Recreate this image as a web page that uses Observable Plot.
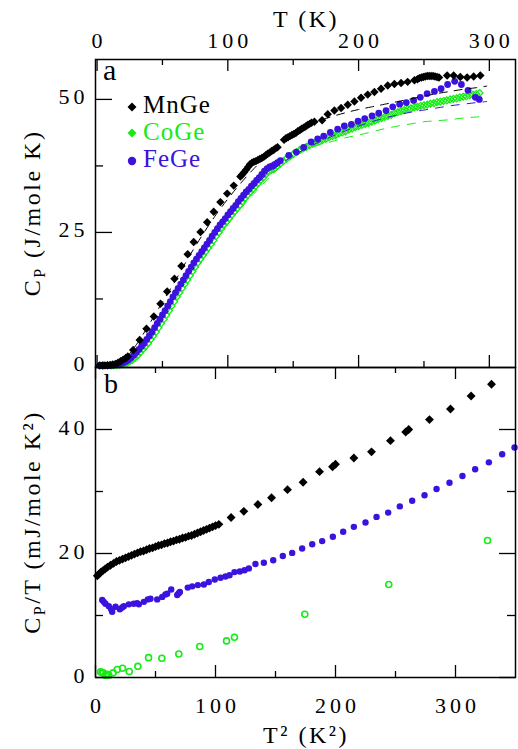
<!DOCTYPE html>
<html><head><meta charset="utf-8">
<script src="https://cdn.jsdelivr.net/npm/d3@7"></script>
<script src="https://cdn.jsdelivr.net/npm/@observablehq/plot@0.6"></script>
<style>
html,body{margin:0;padding:0;background:#fff;}
#chart{position:relative;width:518px;height:749px;overflow:hidden;}
#chart svg{position:absolute;left:0;}
</style></head><body><div id="chart"></div>
<script>
// ---------- Panel a : C_P (J/mole K) vs T (K) ----------
const mnGeCp = [[2,0],[4,0],[6,0.02],[8,0.05],[10,0.1],[12,0.18],[14,0.3],[16,0.5],[18,0.8],[20,1.1],[22,1.4],[23.5,1.7],
 [27.6,2.9],[32.6,4.8],[37.8,6.9],[43.4,9.2],[48.5,11.6],[53.6,13.9],[59.2,16.3],[64.5,18.7],[69.3,20.9],[73.9,23.2],[79.1,25.1],[84.2,26.9],[89.2,28.9],[94.3,30.7],[99.5,32.3],[104.5,33.8],[109.6,35.5],
 [111,35.9],[112.5,36.3],[114,36.8],[115.5,37.3],[117,37.8],[118.5,38.1],[120,38.3],[121.5,38.4],[123,38.6],[124.5,38.8],[126,39.0],[127.5,39.2],[129,39.5],[130.5,39.8],[132,40.0],[133.5,40.3],[135,40.5],[136.5,40.8],[138,41.0],
 [143,42.4],[144.5,42.7],[146,42.9],[147.5,43.1],[149,43.3],[150.5,43.5],[152,43.7],[153.5,44.0],[155,44.2],[156.5,44.5],[158,44.7],[159.5,44.9],[161,45.2],[162.5,45.4],[164,45.6],[166.2,45.8],
 [172.1,46.1],[176.4,47.2],[181.5,47.9],[186.6,48.4],[191.7,49.0],[196.8,49.6],[201.9,50.3],[207,50.9],[212.1,51.4],[217.2,52.0],[222.3,52.6],[227.4,52.9],[232.5,53.1],[237.5,53.3],[242.7,53.6],
 [245,53.8],[246.5,54.0],[248,54.1],[249.5,54.2],[251,54.3],[252.5,54.4],[254,54.4],[255.5,54.4],[257,54.4],[258.5,54.3],[260,54.2],[261.5,54.1],
 [267.7,54.5],[272.7,54.5],[277.8,54.2],[283,54.1],[288,54.3],[293.1,54.5]];

const coGeCp = [[5,0],[8,0],[11,0.01],[13,0.03],[15,0.07],[17,0.13],[19,0.22],[21,0.35],[23,0.5],[25,0.75],[27,1.05],[29,1.45],[31,1.9],[33,2.45],[35,3.0],[37,3.6],[39,4.2],[41,4.9],[43,5.6],[45,6.3],[47,7.1],[49,7.9],[51,8.7],[53,9.5],[55,10.3],[57,11.2],[59,12.0],[61,12.9],[63,13.7],[65,14.5],[67,15.3],[69,16.1],[71,16.9],[73,17.7],[75,18.5],[77,19.3],[79,20.0],[81,20.7],[83,21.4],[85,22.1],[87,22.8],[89,23.5],[91,24.3],[93,25.0],[95,25.7],[97,26.4],[99,27.0],[101,27.6],[103,28.3],[105,28.9],[107,29.5],[109,30.1],[111,30.8],[113,31.4],[115,32.0],[117,32.6],[119,33.1],[121,33.7],[123,34.2],[125,34.8],[127,35.3],[129,35.9],[131,36.4],[133,36.7],
 [135,36.9],[137.5,37.4],[140,37.9],[142.5,38.4],[145,38.9],[147.5,39.3],[150,39.7],[152.5,40.1],[155,40.5],[157.5,40.8],[160,41.1],[162.5,41.4],[165,41.7],[167.5,41.9],[170,42.1],[172.5,42.4],[175,42.6],[177.5,42.9],[180,43.1],[182.5,43.3],[185,43.6],[187.5,43.8],[190,44.0],[192.5,44.3],[195,44.5],[197.5,44.8],[200,45.0],[202.5,45.2],[205,45.4],[207.5,45.6],[210,45.8],[212.5,46.0],[215,46.3],[217.5,46.5],[220,46.7],[222.5,46.9],[225,47.1],[227.5,47.4],[230,47.6],[232.5,47.8],[235,48.0],[237.5,48.2],[240,48.3],[242.5,48.5],[245,48.6],[247.5,48.8],[250,48.9],[252.5,49.0],[255,49.2],[257.5,49.3],[260,49.5],[262.5,49.6],[265,49.7],[267.5,49.8],[270,50.0],[272.5,50.1],[275,50.2],[277.5,50.4],[280,50.5],[282.5,50.6],[285,50.8],[287.5,50.9],[290,51.0],[292.5,51.2]];

const feGeCp = [[2,0],[4,0],[6,0],[8,0.01],[10,0.03],[12,0.07],[14,0.13],[16,0.22],[18,0.35],[20,0.5],[22,0.75],[24,1.05],[26,1.45],[28,1.9],[30,2.45],[32,3.0],[34,3.6],[36,4.2],[38,4.9],[40,5.6],[42,6.3],[44,7.1],[46,7.9],[48,8.7],[50,9.5],[52,10.3],[54,11.2],[56,12.0],[58,12.9],[60,13.7],[62,14.5],[64,15.3],[66,16.1],[68,16.9],[70,17.7],[72,18.5],[74,19.3],[76,20.0],[78,20.7],[80,21.4],[82,22.1],[84,22.8],[86,23.5],[88,24.3],[90,25.0],[92,25.7],[94,26.4],[96,27.0],[98,27.6],[100,28.3],[102,28.9],[104,29.5],[106,30.1],[108,30.8],[110,31.4],[112,32.0],[114,32.6],[116,33.1],[118,33.7],[120,34.2],[122,34.8],[124,35.3],[126,35.9],[128,36.5],[130,37.0],[132,37.3],[134,37.5],[136,37.8],[138,38.1],
 [140.2,38.5],[146.6,39.5],[152.4,40.1],[158,41.0],[163.7,42.0],[168.7,42.6],[173.3,43.1],[178.4,43.8],[184,44.4],[189.1,45.0],[194.5,45.3],[199.6,45.9],[204.7,46.4],[210.3,46.9],[215.4,47.4],[221,47.9],[226.1,48.6],[231.4,49.1],[236.5,49.4],[242.1,49.8],[247.2,50.4],[252.4,51.1],[258,51.5],[263.1,52.0],[268.1,52.8],[273.5,53.4],[278.6,52.8],[283.7,51.7],[289.3,50.4],[292.3,50.0]];

// fitted curves (dashed)
const mnGeFit = [[0,0],[10,0.1],[20,1.0],[30,3.9],[40,7.8],[50,11.9],[60,16.0],[70,20.3],[80,24.3],[90,28.0],[100,31.3],[110,34.3],[120,37.0],[130,39.5],[140,41.9],[150,43.7],[160,45.0],[170,46.0],[180,46.8],[190,47.5],[200,48.1],[210,48.6],[220,49.1],[230,49.6],[240,50.1],[250,50.6],[260,51.1],[270,51.5],[280,51.9],[290,52.2],[298,52.5]];
const coGeFit = [[0,0],[10,0.01],[20,0.3],[30,1.7],[40,4.5],[50,8.3],[60,12.4],[70,16.5],[80,20.3],[90,23.9],[100,26.8],[110,29.6],[120,32.3],[130,34.9],[140,37.3],[150,39.1],[160,40.5],[170,41.5],[180,42.1],[190,42.8],[200,43.3],[210,43.9],[220,44.5],[230,45.0],[240,45.4],[250,45.8],[260,46.0],[270,46.2],[280,46.5],[290,46.7],[298,46.9]];
const feGeFit = [[0,0],[10,0.03],[20,0.5],[30,2.5],[40,5.6],[50,9.5],[60,13.7],[70,17.7],[80,21.4],[90,25.0],[100,28.1],[110,31.0],[120,33.6],[130,35.9],[140,37.8],[150,39.4],[160,40.8],[170,42.0],[180,43.1],[190,44.1],[200,45.0],[210,45.8],[220,46.5],[230,47.1],[240,47.6],[250,48.0],[260,48.4],[270,48.8],[280,49.1],[290,49.4],[298,49.6]];

const tMajor = [0, 100, 200, 300];
const tMinor = [50, 150, 250];
const cpMajor = [0, 25, 50];
const cpMinor = [12.5, 37.5];

// ---------- Panel b : C_P/T (mJ/mole K^2) vs T^2 (K^2) ----------
const mnGeCT = [[1.5,16.4],[3,16.7],[4.5,17.0],[6,17.2],[8,17.5],[10,17.8],[12.5,18.1],[15,18.4],[17.5,18.7],[20,18.9],[22.5,19.1],[25,19.3],[27.5,19.5],[30,19.7],[32.5,19.9],[35,20.1],[37.5,20.3],[40,20.4],[42.5,20.6],[45,20.8],[47.5,20.9],[50,21.1],[52.5,21.3],[55,21.4],[57.5,21.6],[60,21.7],[62.5,21.9],[65,22.0],[67.5,22.2],[70,22.3],[72.5,22.5],[75,22.6],[77.5,22.8],[80,22.9],[82.5,23.1],[85,23.3],[87.5,23.5],[90,23.7],[92.5,23.9],[95,24.1],[97.5,24.3],[100,24.5],[102.8,24.7],
 [113,25.8],[123.6,26.8],[135.3,27.9],[146.7,29.0],[160,30.3],[173,31.5],[186.7,33.2],[197.5,34.0],[200,34.4],[215.3,35.4],[230,36.4],[245.8,38.2],[258.5,39.6],[261,40.0],[278.3,41.6],[295.8,43.3],[313,45.4],[330,47.3]];
const feGeCT = [[5.6,12.5],[6.9,12.2],[8.3,11.9],[11.1,11.5],[13.1,11.0],[13.9,10.6],[16.7,11.4],[20.3,11.0],[22.2,11.3],[23.6,11.5],[27.8,11.8],[31.9,11.9],[34.7,12.0],[36.1,11.8],[40.3,12.2],[43.6,12.6],[45.8,12.7],[51.4,12.6],[55.6,13.0],[58.3,13.4],[59.7,13.5],[63.1,14.2],[68.1,13.3],[69.4,13.6],[70.3,13.8],[76.9,14.5],[80.6,14.7],[85.3,14.9],[90.3,15.0],[94.4,15.4],[99.4,15.8],[104.2,16.1],[108.3,16.3],[111.7,16.5],[115.8,17.0],[120.3,17.1],[124.2,17.3],[127.8,17.6],[133.3,18.3],[140.3,18.5],[148.1,18.9],[156.1,19.6],[163.9,20.1],[172.2,20.8],[180.6,21.5],[188.9,22.0],[197.8,22.7],[206.4,23.5],[215.3,24.3],[225,25.0],[234.2,25.9],[243.9,26.6],[253.6,27.6],[263.9,28.5],[274.2,29.4],[284.2,30.4],[295,31.4],[305.8,32.5],[316.4,33.6],[327.8,34.7],[338.9,36.0],[349.2,37.1]];
const coGeCT = [[4.2,0.9],[5.5,0.8],[6.4,0.75],[8.3,0.37],[9.5,0.5],[11.1,0.4],[14.7,0.75],[18.1,1.3],[22.5,1.5],[28.1,0.97],[35.3,1.8],[44.2,3.2],[55.3,3.1],[69.4,3.8],[86.9,5.0],[109.2,5.9],[115.8,6.5],[174.4,10.2],[244.4,15.0],[326.7,22.1]];

const t2Major = [0, 100, 200, 300];
const t2Minor = [50, 150, 250];
const ctMajor = [0, 20, 40];
const ctMinor = [10, 30];

const compounds = ["MnGe", "CoGe", "FeGe"];
const GREEN = "#14ec14";
const BLUE = "#3b12de";
const colors = ["#000000", GREEN, BLUE];

// ---------- layout ----------
const W = 518, ML = 95, MR = 3;
const FW = W - ML - MR;               // frame width 420
const topH = 368, topMT = 59, topMB = 1;
const topFH = topH - topMT - topMB;   // 308
const botTop = 366, botH = 383, botMT = 1, botMB = 72;
const botFH = botH - botMT - botMB;   // 310
const FONT = "Liberation Serif";

const xy = a => a.map(([x, y]) => ({x, y}));
const tw = 1.3;

const svgA = Plot.plot({
  width: W, height: topH, marginTop: topMT, marginBottom: topMB, marginLeft: ML, marginRight: MR,
  x: {domain: [-1.2, 320]},
  y: {domain: [-0.38, 57.5]},
  style: {background: "transparent", fontFamily: FONT, fontSize: "22px", color: "black", overflow: "visible"},
  marks: [
    Plot.dot(xy(coGeCp), {x: "x", y: "y", symbol: "diamond2", r: 3.1, stroke: GREEN, strokeWidth: 1.3, fill: "none"}),
    Plot.line(xy(coGeFit), {x: "x", y: "y", stroke: GREEN, strokeWidth: 1, strokeDasharray: "8,8", curve: "catmull-rom"}),
    Plot.line(xy(feGeFit), {x: "x", y: "y", stroke: BLUE, strokeWidth: 1, strokeDasharray: "8,8", curve: "catmull-rom"}),
    Plot.dot(xy(feGeCp), {x: "x", y: "y", r: 3.4, fill: BLUE, stroke: "none"}),
    Plot.line(xy(mnGeFit), {x: "x", y: "y", stroke: "black", strokeWidth: 1, strokeDasharray: "8,7", curve: "catmull-rom"}),
    Plot.dot(xy(mnGeCp), {x: "x", y: "y", symbol: "diamond2", r: 3.8, fill: "black", stroke: "none"}),
    Plot.frame({stroke: "black", strokeWidth: 1.5}),
    Plot.ruleX(tMajor, {insetBottom: topFH - 12, strokeWidth: tw}),
    Plot.ruleX(tMinor, {insetBottom: topFH - 6, strokeWidth: tw}),
    Plot.ruleX(tMajor, {insetTop: topFH - 12, strokeWidth: tw}),
    Plot.ruleX(tMinor, {insetTop: topFH - 6, strokeWidth: tw}),
    Plot.ruleY(cpMajor, {insetRight: FW - 17, strokeWidth: tw}),
    Plot.ruleY(cpMinor, {insetRight: FW - 8, strokeWidth: tw}),
    Plot.axisX(tMajor, {anchor: "top", tickSize: 0, tickPadding: 12, label: null, fontSize: 22}),
    Plot.axisY(cpMajor, {anchor: "left", tickSize: 0, tickPadding: 11, label: null, fontSize: 22, dy: -2})
  ]
});

const svgB = Plot.plot({
  width: W, height: botH, marginTop: botMT, marginBottom: botMB, marginLeft: ML, marginRight: MR,
  x: {domain: [0, 350]},
  y: {domain: [0, 50]},
  style: {background: "transparent", fontFamily: FONT, fontSize: "22px", color: "black", overflow: "visible"},
  marks: [
    Plot.dot(xy(coGeCT), {x: "x", y: "y", r: 3, stroke: GREEN, strokeWidth: 1.6, fill: "none"}),
    Plot.dot(xy(feGeCT), {x: "x", y: "y", r: 3.2, fill: BLUE, stroke: "none"}),
    Plot.dot(xy(mnGeCT), {x: "x", y: "y", symbol: "diamond2", r: 4, fill: "black", stroke: "none"}),
    Plot.frame({stroke: "black", strokeWidth: 1.5}),
    Plot.ruleX(t2Major, {insetBottom: botFH - 12, strokeWidth: tw}),
    Plot.ruleX(t2Minor, {insetBottom: botFH - 6, strokeWidth: tw}),
    Plot.ruleX(t2Major, {insetTop: botFH - 12, strokeWidth: tw}),
    Plot.ruleX(t2Minor, {insetTop: botFH - 6, strokeWidth: tw}),
    Plot.ruleY(ctMajor, {insetRight: FW - 17, strokeWidth: tw}),
    Plot.ruleY(ctMinor, {insetRight: FW - 8, strokeWidth: tw}),
    Plot.ruleY(ctMajor, {insetLeft: FW - 16, strokeWidth: tw}),
    Plot.ruleY(ctMinor, {insetLeft: FW - 8, strokeWidth: tw}),
    Plot.axisX(t2Major, {anchor: "bottom", tickSize: 0, tickPadding: 20, label: null, fontSize: 22}),
    Plot.axisY(ctMajor, {anchor: "left", tickSize: 0, tickPadding: 11, label: null, fontSize: 22, dy: -2})
  ]
});

const chart = document.getElementById("chart");
svgA.style.top = "0px";
svgB.style.top = botTop + "px";
chart.appendChild(svgA);
chart.appendChild(svgB);

// widen tick label spacing (reference font is wide)
for (const s of [svgA, svgB]) {
  d3.select(s).selectAll("g[aria-label='x-axis tick label'] text").attr("letter-spacing", "4px").attr("dx", 2);
  d3.select(s).selectAll("g[aria-label='y-axis tick label'] text").attr("letter-spacing", "4px").attr("dx", 4);
}

function txt(svg, x, y, str, size, opts = {}) {
  const t = d3.select(svg).append("text")
    .attr("x", x).attr("y", y)
    .attr("font-family", FONT).attr("font-size", size)
    .attr("fill", opts.fill || "black")
    .attr("text-anchor", opts.anchor || "start")
    .attr("letter-spacing", opts.ls || "0px");
  t.text(str);
  return t;
}

// axis titles
txt(svgA, 306, 27, "T (K)", 24, {anchor: "middle", ls: "2.5px"});
{
  const t = d3.select(svgA).append("text")
    .attr("transform", "translate(40,213) rotate(-90)")
    .attr("text-anchor", "middle").attr("font-family", FONT).attr("font-size", 24).attr("letter-spacing", "2.5px");
  t.append("tspan").text("C");
  t.append("tspan").attr("font-size", 16).attr("dy", 5).text("P");
  t.append("tspan").attr("dy", -5).text(" (J/mole K)");
}
txt(svgB, 306, 743 - botTop, "T² (K²)", 24, {anchor: "middle", ls: "2.5px"});
{
  const t = d3.select(svgB).append("text")
    .attr("transform", `translate(40,${522 - botTop}) rotate(-90)`)
    .attr("text-anchor", "middle").attr("font-family", FONT).attr("font-size", 24).attr("letter-spacing", "2.5px");
  t.append("tspan").text("C");
  t.append("tspan").attr("font-size", 16).attr("dy", 5).text("P");
  t.append("tspan").attr("dy", -5).text("/T (mJ/mole K²)");
}

// panel letters
txt(svgA, 103, 80, "a", 30);
txt(svgB, 104, 393 - botTop, "b", 28);

// legend (panel a)
const legY = [107, 133, 161];
const legBase = [113, 140, 167];
compounds.forEach((name, i) => {
  const g = d3.select(svgA);
  const cx = 132, cy = legY[i];
  if (i === 2) {
    g.append("circle").attr("cx", cx).attr("cy", cy).attr("r", 4.2).attr("fill", colors[i]);
  } else {
    const h = 4.5;
    g.append("path").attr("d", `M${cx},${cy - h}L${cx + h},${cy}L${cx},${cy + h}L${cx - h},${cy}Z`).attr("fill", colors[i]);
  }
  txt(svgA, 143, legBase[i], name, 25, {fill: colors[i], ls: "1px"});
});
</script>
</body></html>
